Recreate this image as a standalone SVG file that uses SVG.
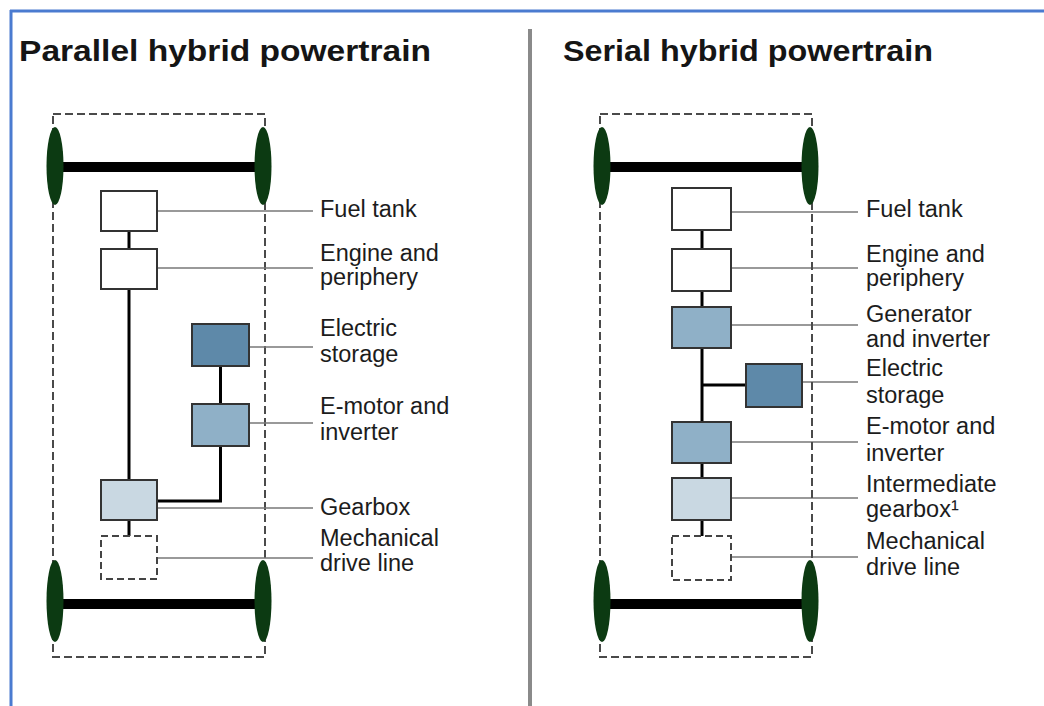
<svg xmlns="http://www.w3.org/2000/svg" width="1044" height="706" viewBox="0 0 1044 706">
<style>
.title{font-family:"Liberation Sans",Arial,sans-serif;font-weight:bold;font-size:30px;fill:#151515}
.lbl{font-family:"Liberation Sans",Arial,sans-serif;font-size:23.5px;fill:#1c1c1c}
.frame{fill:none;stroke:#4a4a4a;stroke-width:2;stroke-dasharray:8 4}
.wheel{fill:#0c3a12}
.axle{stroke:#000;stroke-width:10}
.box{stroke:#333;stroke-width:2}
.white{fill:#fff}
.store{fill:#5e89a9}
.motor{fill:#8fb0c7}
.gear{fill:#c9d8e2}
.mech{fill:#fff;stroke:#444;stroke-width:2;stroke-dasharray:7 4}
.conn{stroke:#000;stroke-width:3;fill:none}
.lead{stroke:#777;stroke-width:1.5;fill:none}
</style>
<rect width="1044" height="706" fill="#fff"/>
<g id="border">
<line x1="10" y1="11" x2="1044" y2="11" stroke="#4a7bd0" stroke-width="3"/>
<line x1="11" y1="10" x2="11" y2="706" stroke="#4a7bd0" stroke-width="3"/>
<line x1="530" y1="29" x2="530" y2="706" stroke="#8a8a8a" stroke-width="4"/>
</g>
<g id="titles">
<text class="title" x="19" y="61" textLength="412" lengthAdjust="spacingAndGlyphs">Parallel hybrid powertrain</text>
<text class="title" x="563" y="61" textLength="370" lengthAdjust="spacingAndGlyphs">Serial hybrid powertrain</text>
</g>

<g id="parallel-chassis">
<rect class="frame" x="53" y="114" width="212" height="543"/>
<line class="axle" x1="55" y1="167" x2="263" y2="167"/>
<line class="axle" x1="55" y1="604" x2="263" y2="604"/>
<ellipse class="wheel" cx="55" cy="166" rx="8.5" ry="39"/>
<ellipse class="wheel" cx="263" cy="166" rx="8.5" ry="39"/>
<ellipse class="wheel" cx="55" cy="601" rx="8.5" ry="41"/>
<ellipse class="wheel" cx="263" cy="601" rx="8.5" ry="41"/>
</g>

<g id="connectors">
<line class="conn" x1="129" y1="231" x2="129" y2="249"/>
<line class="conn" x1="129" y1="289" x2="129" y2="480"/>
<line class="conn" x1="129" y1="520" x2="129" y2="536"/>
<line class="conn" x1="220.5" y1="366" x2="220.5" y2="404"/>
<polyline class="conn" points="220.5,446 220.5,501 157,501"/>
<line class="lead" x1="157" y1="211" x2="313" y2="211"/>
<line class="lead" x1="157" y1="268" x2="313" y2="268"/>
<line class="lead" x1="249" y1="347" x2="313" y2="347"/>
<line class="lead" x1="249" y1="423" x2="313" y2="423"/>
<line class="lead" x1="157" y1="508" x2="313" y2="508"/>
<line class="lead" x1="158" y1="558" x2="313" y2="558"/>
<line class="conn" x1="702" y1="230" x2="702" y2="249"/>
<line class="conn" x1="702" y1="291" x2="702" y2="307"/>
<line class="conn" x1="702" y1="348" x2="702" y2="422"/>
<line class="conn" x1="702" y1="385" x2="746" y2="385"/>
<line class="conn" x1="702" y1="463" x2="702" y2="478"/>
<line class="conn" x1="702" y1="520" x2="702" y2="536"/>
<line class="lead" x1="731" y1="212" x2="858" y2="212"/>
<line class="lead" x1="731" y1="268" x2="858" y2="268"/>
<line class="lead" x1="731" y1="325" x2="858" y2="325"/>
<line class="lead" x1="802" y1="382" x2="858" y2="382"/>
<line class="lead" x1="731" y1="442" x2="858" y2="442"/>
<line class="lead" x1="731" y1="498" x2="858" y2="498"/>
<line class="lead" x1="732" y1="557" x2="858" y2="557"/>
</g>

<g id="p-fuel"><rect class="box white" x="101" y="191" width="56" height="40"/><text class="lbl" x="320" y="217">Fuel tank</text></g>
<g id="p-engine"><rect class="box white" x="101" y="249" width="56" height="40"/><text class="lbl" x="320" y="261">Engine and</text><text class="lbl" x="320" y="285">periphery</text></g>
<g id="p-storage"><rect class="box store" x="192" y="324" width="57" height="42"/><text class="lbl" x="320" y="336">Electric</text><text class="lbl" x="320" y="362">storage</text></g>
<g id="p-emotor"><rect class="box motor" x="192" y="404" width="57" height="42"/><text class="lbl" x="320" y="414">E-motor and</text><text class="lbl" x="320" y="440">inverter</text></g>
<g id="p-gearbox"><rect class="box gear" x="101" y="480" width="56" height="40"/><text class="lbl" x="320" y="515">Gearbox</text></g>
<g id="p-mech"><rect class="mech" x="101" y="536" width="56" height="43"/><text class="lbl" x="320" y="546">Mechanical</text><text class="lbl" x="320" y="571">drive line</text></g>

<g id="serial-chassis">
<rect class="frame" x="600" y="114" width="212" height="543"/>
<line class="axle" x1="602" y1="167" x2="810" y2="167"/>
<line class="axle" x1="602" y1="604" x2="810" y2="604"/>
<ellipse class="wheel" cx="602" cy="166" rx="8.5" ry="39"/>
<ellipse class="wheel" cx="810" cy="166" rx="8.5" ry="39"/>
<ellipse class="wheel" cx="602" cy="601" rx="8.5" ry="41"/>
<ellipse class="wheel" cx="810" cy="601" rx="8.5" ry="41"/>
</g>

<g id="s-fuel"><rect class="box white" x="672" y="188" width="59" height="42"/><text class="lbl" x="866" y="217">Fuel tank</text></g>
<g id="s-engine"><rect class="box white" x="672" y="249" width="59" height="42"/><text class="lbl" x="866" y="262">Engine and</text><text class="lbl" x="866" y="286">periphery</text></g>
<g id="s-generator"><rect class="box motor" x="672" y="307" width="59" height="41"/><text class="lbl" x="866" y="322">Generator</text><text class="lbl" x="866" y="347">and inverter</text></g>
<g id="s-storage"><rect class="box store" x="746" y="364" width="56" height="43"/><text class="lbl" x="866" y="376">Electric</text><text class="lbl" x="866" y="403">storage</text></g>
<g id="s-emotor"><rect class="box motor" x="672" y="422" width="59" height="41"/><text class="lbl" x="866" y="434">E-motor and</text><text class="lbl" x="866" y="461">inverter</text></g>
<g id="s-gearbox"><rect class="box gear" x="672" y="478" width="59" height="42"/><text class="lbl" x="866" y="492">Intermediate</text><text class="lbl" x="866" y="517">gearbox¹</text></g>
<g id="s-mech"><rect class="mech" x="672" y="536" width="59" height="44"/><text class="lbl" x="866" y="549">Mechanical</text><text class="lbl" x="866" y="575">drive line</text></g>
</svg>
